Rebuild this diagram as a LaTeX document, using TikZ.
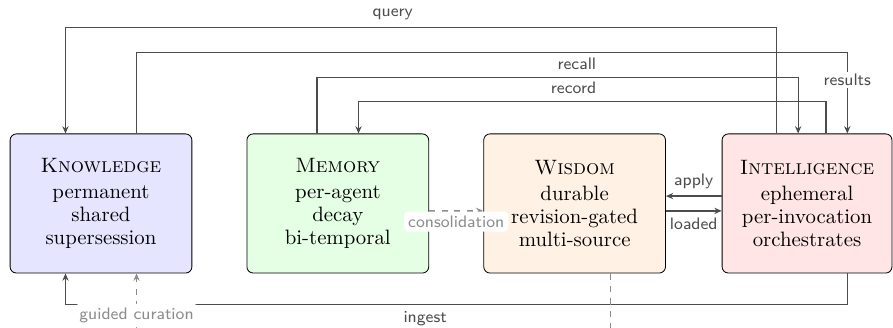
\documentclass[tikz,border=0pt]{standalone}
\usepackage{tikz}
\usepackage{amsmath}
\usepackage{amssymb}
\usetikzlibrary{arrows.meta}

\begin{document}
\begin{tikzpicture}[
  box/.style={draw=black,rounded corners=3pt,minimum width=3.07cm,minimum height=2.35cm,align=center,font=\fontsize{10}{11}\selectfont},
  flow/.style={black!70,semithick,-{Stealth[length=3.5pt,width=3pt]}},
  soft/.style={black!45,semithick,dashed,-{Stealth[length=3.5pt,width=3pt]}},
  lbl/.style={font=\footnotesize\sffamily,text=black!70},
  slbl/.style={font=\footnotesize\sffamily,text=black!45,fill=white,rounded corners=2pt,inner sep=2pt}
]
\useasboundingbox (-1.706,-2.103) rectangle (13.378,3.437);
\node [box,fill=blue!10] (know) at (0,0) {\textsc{Knowledge}\\[1.5pt]permanent\\shared\\supersession};
\node [box,fill=green!10] (mem) at (4,0) {\textsc{Memory}\\[1.5pt]per-agent\\decay\\bi-temporal};
\node [box,fill=orange!10] (wis) at (8,0) {\textsc{Wisdom}\\[1.5pt]durable\\revision-gated\\multi-source};
\node [box,fill=red!10,minimum width=2.87cm] (intel) at (11.926,0) {\textsc{Intelligence}\\[1.5pt]ephemeral\\per-invocation\\orchestrates};
\draw [flow] ([xshift=-5.1mm]intel.north) -- ++(0,1.79) -| node[lbl,above,pos=0.27] {query} ([xshift=-6mm]know.north);
\draw [flow] ([xshift=6mm]know.north) -- ++(0,1.37) -| node[lbl,fill=white,inner sep=1pt,pos=0.67] {results} ([xshift=6.8mm]intel.north);
\draw [flow] ([xshift=-3.5mm]mem.north) -- ++(0,0.95) -| node[lbl,above,pos=0.27] {recall} ([xshift=-1.5mm]intel.north);
\draw [flow] ([xshift=3.2mm]intel.north) -- ++(0,0.54) -| node[lbl,above,pos=0.27] {record} ([xshift=3.5mm]mem.north);
\draw [flow] ([yshift=1.25mm]intel.west) -- node[lbl,above] {apply} ([yshift=1.25mm]wis.east);
\draw [flow] ([yshift=-1.25mm]wis.east) -- node[lbl,below] {loaded} ([yshift=-1.25mm]intel.west);
\draw [soft] ([yshift=-1.25mm]mem.east) -- node[slbl,below] {consolidation} ([yshift=-1.25mm]wis.west);
\draw [flow] ([xshift=6.8mm]intel.south) -- ++(0,-0.52) -| node[lbl,below,pos=0.27] {ingest} ([xshift=-6mm]know.south);
\coordinate (curate) at ([xshift=6mm]know.south |- 0,-2.6);
\draw [soft] (curate) -- node[slbl] {guided curation} ([xshift=6mm]know.south);
\coordinate (distil) at ([xshift=6mm]wis.south |- 0,-2.6);
\draw [soft] ([xshift=6mm]wis.south) -- (distil);
\end{tikzpicture}
\end{document}
